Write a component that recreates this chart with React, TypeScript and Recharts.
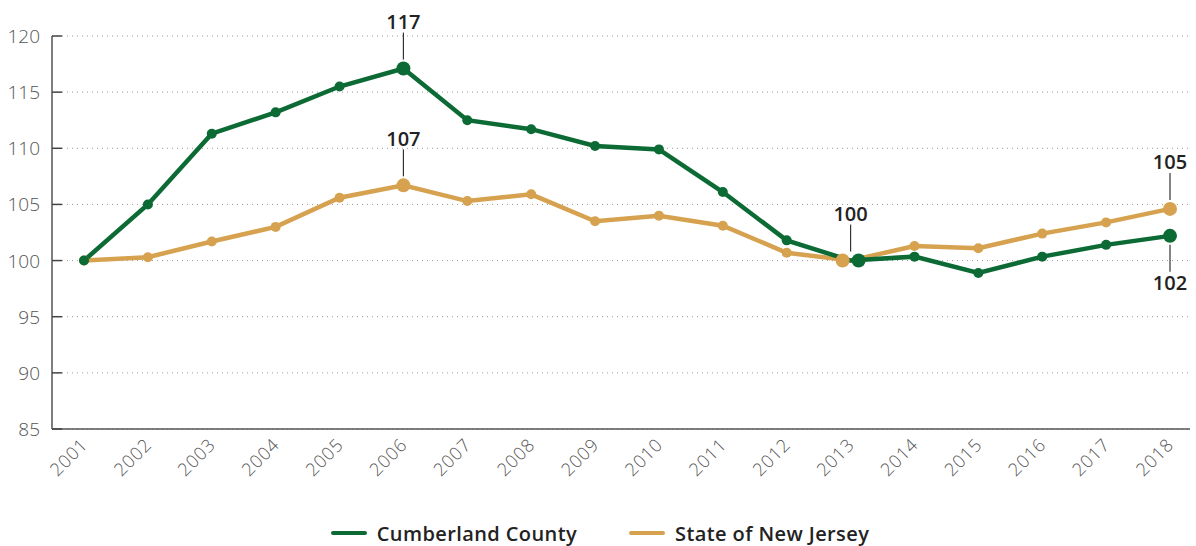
import React from "react";
import {
  LineChart,
  Line,
  XAxis,
  YAxis,
  CartesianGrid,
  Legend,
} from "recharts";

const years = [
  "2001", "2002", "2003", "2004", "2005", "2006", "2007", "2008", "2009",
  "2010", "2011", "2012", "2013", "2014", "2015", "2016", "2017", "2018",
];
const cumberland = [
  100, 105.0, 111.3, 113.2, 115.5, 117.1, 112.5, 111.7, 110.2,
  109.9, 106.1, 101.8, 100, 100.35, 98.9, 100.35, 101.4, 102.2,
];
const newJersey = [
  100, 100.3, 101.7, 103.0, 105.6, 106.7, 105.3, 105.9, 103.5,
  104.0, 103.1, 100.7, 100, 101.3, 101.1, 102.4, 103.4, 104.6,
];
const yTicks = [85, 90, 95, 100, 105, 110, 115, 120];

// years whose values get a callout, and where it sits
const cumberlandCallouts: Record<string, "above" | "below"> = { "2006": "above", "2018": "below" };
const newJerseyCallouts: Record<string, "above" | "below"> = { "2006": "above", "2013": "above", "2018": "above" };
const bigDotYears = ["2006", "2013", "2018"];

const GREEN = "#0c6a35";
const GOLD = "#d6a24f";
const FONT = "'Open Sans', sans-serif";

const data = years.map((year, i) => ({
  year,
  cumberland: cumberland[i],
  newJersey: newJersey[i],
}));

const makeDot = (color: string, shiftAt2013: number) => (props: any) => {
  const { cx, cy, index } = props;
  const year = years[index];
  const big = bigDotYears.includes(year);
  const dx = year === "2013" ? shiftAt2013 : 0;
  return (
    <circle key={`dot-${color}-${index}`} cx={cx + dx} cy={cy} r={big ? 7 : 5} fill={color} stroke="none" />
  );
};

const makeLabel = (callouts: Record<string, "above" | "below">) => (props: any) => {
  const { x, y, index, value } = props;
  const side = callouts[years[index]];
  if (!side) return <g key={`lbl-${index}`} />;
  const sgn = side === "above" ? -1 : 1;
  return (
    <g key={`lbl-${index}`}>
      <line x1={x} x2={x} y1={y + sgn * 9} y2={y + sgn * 36} stroke="#333" strokeWidth={1.2} />
      <text
        x={x}
        y={y + sgn * 47}
        textAnchor="middle"
        dominantBaseline="central"
        fontFamily={FONT}
        fontWeight={600}
        fontSize={20}
        fill="#222"
      >
        {Math.round(value)}
      </text>
    </g>
  );
};

const YTick = (props: any) => {
  const { x, y, payload } = props;
  return (
    <g>
      <line x1={x + 12} x2={x + 22} y1={y} y2={y} stroke="#444" strokeWidth={1.5} />
      <text
        x={x}
        y={y}
        textAnchor="end"
        dominantBaseline="central"
        fontFamily={FONT}
        fontWeight={300}
        fontSize={19}
        fill="#555"
      >
        {payload.value}
      </text>
    </g>
  );
};

const XTick = (props: any) => {
  const { x, y, payload } = props;
  return (
    <text
      x={x}
      y={y}
      transform={`rotate(-45, ${x}, ${y})`}
      textAnchor="end"
      dominantBaseline="central"
      fontFamily={FONT}
      fontWeight={300}
      fontSize={18}
      letterSpacing={0.8}
      fill="#555"
    >
      {payload.value}
    </text>
  );
};

const legendItems = [
  { name: "Cumberland County", color: GREEN },
  { name: "State of New Jersey", color: GOLD },
];

const renderLegend = () => (
  <div
    style={{
      display: "flex",
      justifyContent: "center",
      alignItems: "center",
      gap: 52,
      height: 26,
      fontFamily: FONT,
      fontWeight: 600,
      fontSize: 20,
      letterSpacing: 0.4,
      color: "#222",
      paddingLeft: 10,
    }}
  >
    {legendItems.map((item) => (
      <div key={item.name} style={{ display: "flex", alignItems: "center" }}>
        <span style={{ display: "inline-block", width: 36, height: 4, borderRadius: 2, background: item.color, marginRight: 10 }} />
        <span>{item.name}</span>
      </div>
    ))}
  </div>
);

export default function App() {
  return (
    <div style={{ position: "absolute", left: 0, top: 0, background: "#fff" }}>
      <LineChart width={1196} height={546} data={data} margin={{ top: 36, right: 6, bottom: 0, left: 0 }}>
        <CartesianGrid vertical={false} stroke="#999" strokeDasharray="1 4" />
        <XAxis
          dataKey="year"
          padding={{ left: 32, right: 20 }}
          axisLine={{ stroke: "#555", strokeWidth: 1.5 }}
          tickLine={false}
          tickSize={0}
          tickMargin={12}
          interval={0}
          height={91}
          tick={<XTick />}
        />
        <YAxis
          domain={[85, 120]}
          ticks={yTicks}
          width={52}
          axisLine={{ stroke: "#555", strokeWidth: 1.5 }}
          tickLine={false}
          tickSize={0}
          tickMargin={12}
          tick={<YTick />}
        />
        <Legend verticalAlign="bottom" height={26} content={renderLegend} />
        <Line
          dataKey="newJersey"
          stroke={GOLD}
          strokeWidth={4.5}
          dot={makeDot(GOLD, -8)}
          activeDot={false}
          label={makeLabel(newJerseyCallouts)}
          isAnimationActive={false}
        />
        <Line
          dataKey="cumberland"
          stroke={GREEN}
          strokeWidth={4.5}
          dot={makeDot(GREEN, 8)}
          activeDot={false}
          label={makeLabel(cumberlandCallouts)}
          isAnimationActive={false}
        />
      </LineChart>
    </div>
  );
}
